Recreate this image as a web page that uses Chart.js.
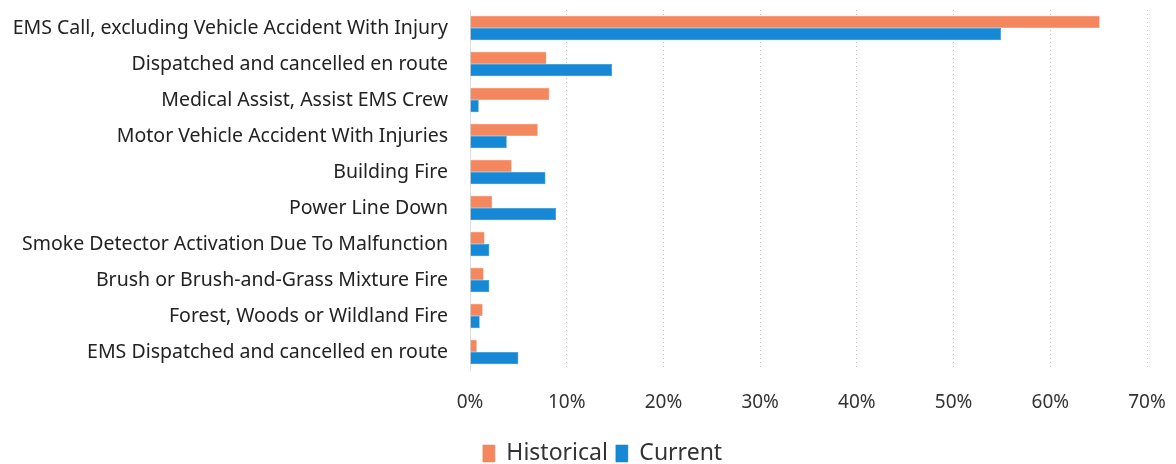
<!DOCTYPE html>
<html>
<head>
<meta charset="utf-8">
<script src="https://cdn.jsdelivr.net/npm/chart.js@4"></script>
<style>
html,body{margin:0;padding:0;background:#fff;}
#wrap{width:1176px;height:464px;}
</style>
</head>
<body>
<div id="wrap"><canvas id="callChart" width="1176" height="464"></canvas></div>
<script>

// incident types, top to bottom
const categories = [
"EMS Call, excluding Vehicle Accident With Injury",
"Dispatched and cancelled en route",
"Medical Assist, Assist EMS Crew",
"Motor Vehicle Accident With Injuries",
"Building Fire",
"Power Line Down",
"Smoke Detector Activation Due To Malfunction",
"Brush or Brush-and-Grass Mixture Fire",
"Forest, Woods or Wildland Fire",
"EMS Dispatched and cancelled en route"
];

// share of calls, percent
const historical = [65.1, 7.9, 8.2, 7.0, 4.3, 2.3, 1.5, 1.4, 1.3, 0.7];
const current = [54.9, 14.7, 0.9, 3.8, 7.8, 8.9, 2.0, 2.0, 1.0, 5.0];

const xTicks = [0,10,20,30,40,50,60,70];

const font = "'Noto Sans', sans-serif";

// legend sits a bit right of the canvas centre in the original
const nudgeLegend = {
id:"nudgeLegend",
afterLayout(chart){
chart.legend.left += 29;
chart.legend.right += 29;
}
};

const ctx = document.getElementById("callChart");

new Chart(ctx,{
type:"bar",
data:{
labels:categories,
datasets:[
{
label:"Historical",
data:historical,
backgroundColor:"#F4875E",
borderColor:"#EE7A50",
borderWidth:0.5,
barPercentage:1,
categoryPercentage:0.68
},
{
label:"Current",
data:current,
backgroundColor:"#1589D6",
borderColor:"#0E7CC6",
borderWidth:0.5,
barPercentage:1,
categoryPercentage:0.68
}
]
},
options:{
indexAxis:"y",
responsive:false,
animation:false,
layout:{
padding:{top:10,right:29,bottom:-11,left:0}
},
plugins:{
legend:{
position:"bottom",
labels:{
font:{family:font,size:23},
color:"#333",
boxWidth:12,
boxHeight:17,
padding:8
}
},
tooltip:{enabled:false}
},
scales:{
x:{
min:0,
max:70,
afterBuildTicks:function(scale){
scale.ticks = xTicks.map(v=>({value:v}));
},
ticks:{
callback:v=>v+"%",
font:{family:font,size:19},
color:"#333",
padding:21
},
grid:{
color:"#c9c9c9",
lineWidth:1,
drawTicks:false
},
border:{display:false,dash:[1,3]},
afterFit:function(scale){
scale.height = 64;
scale.paddingRight = 0;
scale.paddingLeft = 0;
}
},
y:{
ticks:{
font:{family:font,size:19.5},
color:"#222",
padding:14,
autoSkip:false
},
grid:{display:false},
border:{display:true,color:"#dddddd"},
afterFit:function(scale){
scale.width = 470;
scale.paddingTop = 0;
scale.paddingBottom = 0;
}
}
}
},
plugins:[nudgeLegend]
});

</script>
</body>
</html>
